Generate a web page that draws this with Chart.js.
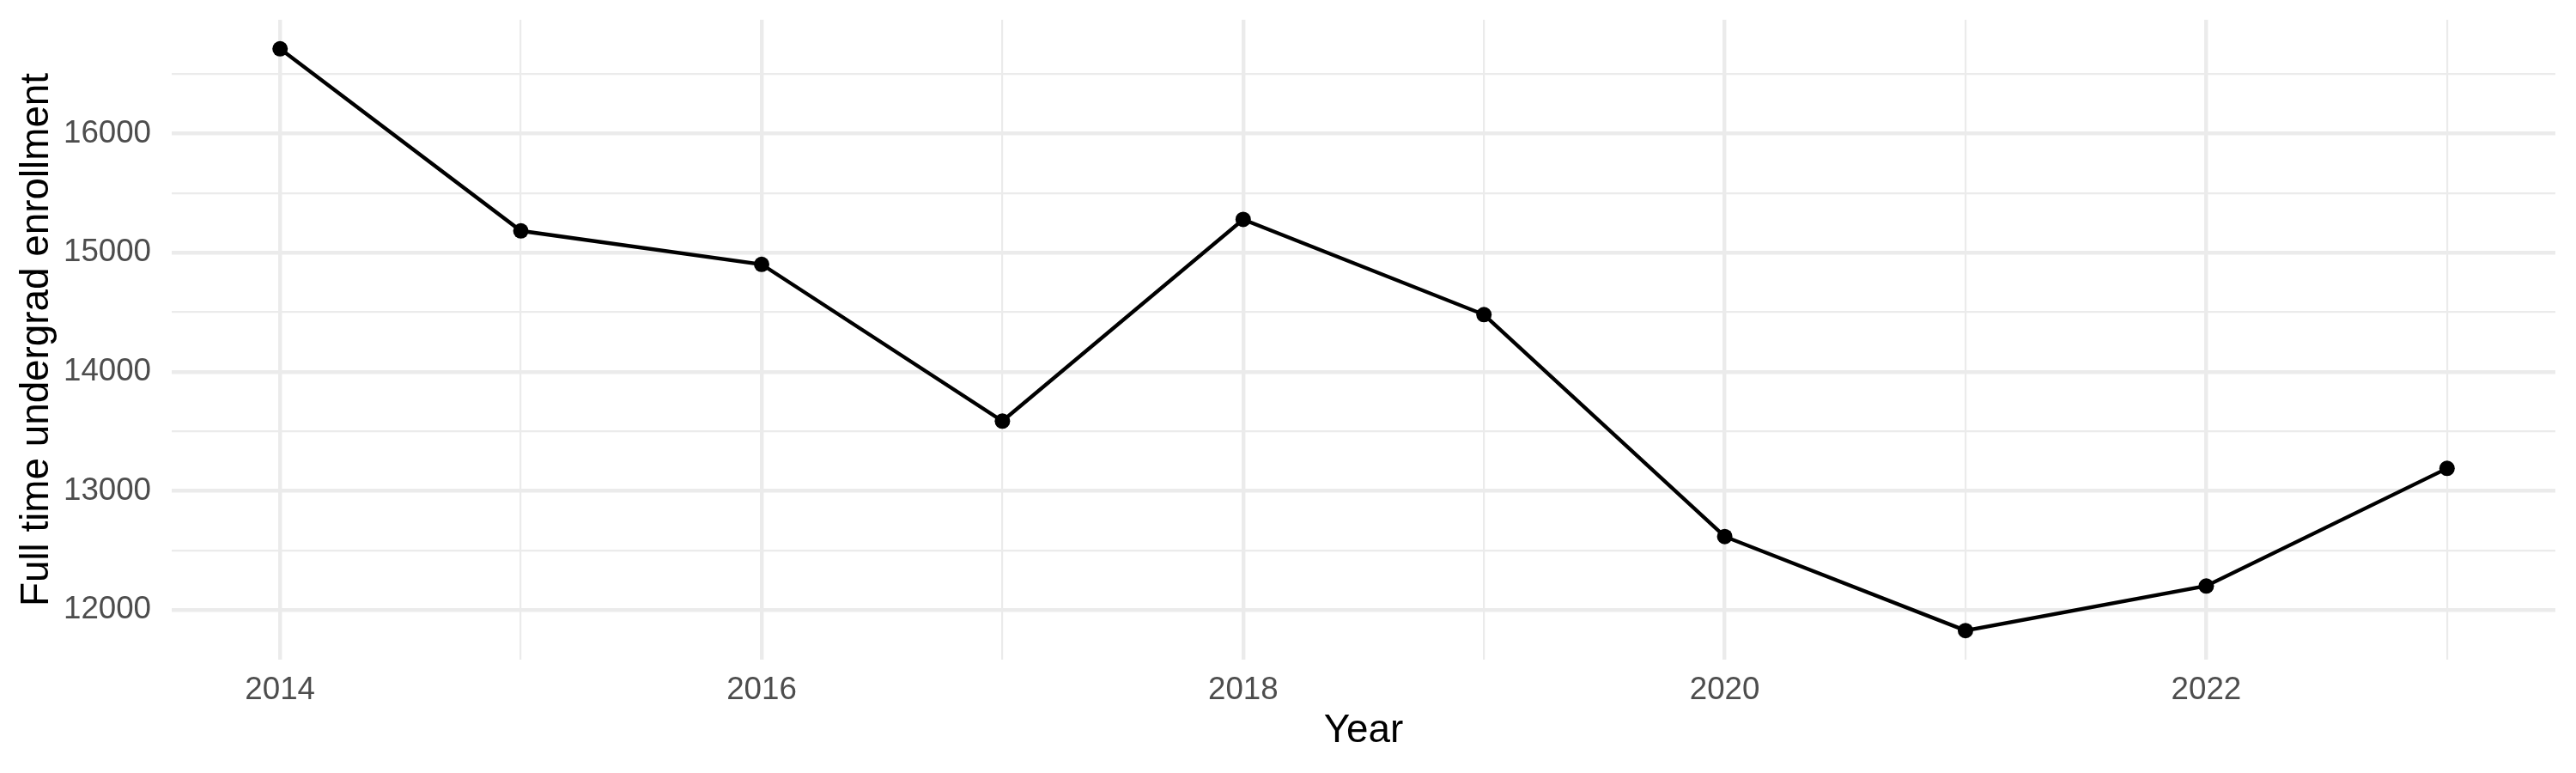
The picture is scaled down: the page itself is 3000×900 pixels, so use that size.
<!DOCTYPE html>
<html>
<head>
<meta charset="utf-8">
<script src="https://cdn.jsdelivr.net/npm/chart.js@4/dist/chart.umd.min.js"></script>
<style>
  html,body{margin:0;padding:0;background:#fff;}
  #c{display:block;}
</style>
</head>
<body>
<canvas id="c" width="3000" height="900"></canvas>
<script>
// data
const years = [2014, 2015, 2016, 2017, 2018, 2019, 2020, 2021, 2022, 2023];
const enrollment = [16711, 15183, 14902, 13586, 15279, 14480, 12617, 11828, 12202, 13189];
const yTicks = [12000, 12500, 13000, 13500, 14000, 14500, 15000, 15500, 16000, 16500];
const xLabelYears = [2014, 2016, 2018, 2020, 2022];

const GRID = '#EBEBEB';
const FONT = '"Liberation Sans", Arial, Helvetica, sans-serif';

// ggplot style 5% expansion
const xMin = years[0] - 0.05*(years[years.length-1]-years[0]);
const xMax = years[years.length-1] + 0.05*(years[years.length-1]-years[0]);
const yLo = Math.min(...enrollment), yHi = Math.max(...enrollment);
const yMin = yLo - 0.05*(yHi-yLo), yMax = yHi + 0.05*(yHi-yLo);

const points = years.map((y,i)=>({x:y, y:enrollment[i]}));

new Chart(document.getElementById('c'), {
  type:'line',
  data:{datasets:[{
    data:points, borderColor:'#000', borderWidth:4.4, tension:0,
    pointRadius:9, pointHoverRadius:9, pointBackgroundColor:'#000', pointBorderWidth:0
  }]},
  options:{
    responsive:false, animation:false, devicePixelRatio:1,
    layout:{padding:{top:23, right:24, left:0, bottom:0}},
    plugins:{legend:{display:false}, tooltip:{enabled:false}},
    scales:{
      x:{
        type:'linear', min:xMin, max:xMax,
        afterBuildTicks:s=>{ s.ticks = years.map(v=>({value:v})); },
        afterFit:s=>{ s.height = 132; s.paddingLeft = 0; s.paddingRight = 0; },
        grid:{color:GRID, drawTicks:false, lineWidth:c=>xLabelYears.includes(c.tick && c.tick.value)?4.4:2.2},
        border:{display:false},
        ticks:{autoSkip:false, maxRotation:0, padding:14, color:'#4D4D4D',
          font:{family:FONT, size:36.7},
          callback:v=>xLabelYears.includes(v)?String(v):''},
        title:{display:true, text:'Year', color:'#000', font:{family:FONT, size:45.8}, padding:{top:0, bottom:21}}
      },
      y:{
        min:yMin, max:yMax,
        afterBuildTicks:s=>{ s.ticks = yTicks.map(v=>({value:v})); },
        afterFit:s=>{ s.width = 200; s.paddingTop = 0; s.paddingBottom = 0; },
        grid:{color:GRID, drawTicks:false, lineWidth:c=>(c.tick && c.tick.value%1000===0)?4.4:2.2},
        border:{display:false},
        ticks:{autoSkip:false, padding:24, color:'#4D4D4D',
          font:{family:FONT, size:36.7},
          callback:v=>v%1000===0?String(v):''},
        title:{display:true, text:'Full time undergrad enrollment', color:'#000', font:{family:FONT, size:45.8}, padding:{top:16, bottom:0}}
      }
    }
  }
});
</script>
</body>
</html>
